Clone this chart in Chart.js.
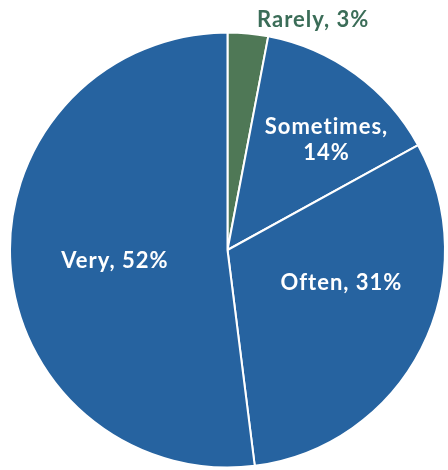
<!DOCTYPE html>
<html>
<head>
<meta charset="utf-8">
<script src="https://cdn.jsdelivr.net/npm/chart.js@4/dist/chart.umd.min.js"></script>
<style>
  html, body { margin: 0; padding: 0; background: #fff; }
  #wrap { width: 448px; height: 470px; }
</style>
</head>
<body>
<div id="wrap"><canvas id="chart" width="448" height="470"></canvas></div>
<script>
// answers, clockwise from 12 o'clock
const categories = ["Rarely", "Sometimes", "Often", "Very"];
const shares = [3, 14, 31, 52];
const sliceColors = ["#4f7856", "#2663a0", "#2663a0", "#2663a0"];

// where each label sits: fraction of the radius, and a nudge (degrees) off the slice middle
const labelSpots = [
  { r: 1.13, shift: 15, color: "#3b6d58", lines: (c, v) => [`${c}, ${v}%`] },
  { r: 0.68, shift: 6, color: "#ffffff", lines: (c, v) => [`${c},`, `${v}%`] },
  { r: 0.545, shift: -11, color: "#ffffff", lines: (c, v) => [`${c}, ${v}%`] },
  { r: 0.52, shift: -2, color: "#ffffff", lines: (c, v) => [`${c}, ${v}%`] }
];

const sliceLabels = {
  id: "sliceLabels",
  afterDatasetsDraw(chart) {
    const ctx = chart.ctx;
    const arcs = chart.getDatasetMeta(0).data;
    ctx.save();
    ctx.font = "bold 22px Lato";
    ctx.letterSpacing = "1px";
    ctx.textAlign = "center";
    ctx.textBaseline = "middle";
    arcs.forEach((arc, i) => {
      const spot = labelSpots[i];
      const { x, y, startAngle, endAngle, outerRadius } = arc.getProps(
        ["x", "y", "startAngle", "endAngle", "outerRadius"], true);
      const a = (startAngle + endAngle) / 2 + spot.shift * Math.PI / 180;
      const lx = x + Math.cos(a) * outerRadius * spot.r;
      const ly = y + Math.sin(a) * outerRadius * spot.r;
      const lines = spot.lines(categories[i], shares[i]);
      const lh = 26;
      ctx.fillStyle = spot.color;
      lines.forEach((t, k) => {
        ctx.fillText(t, lx, ly + (k - (lines.length - 1) / 2) * lh);
      });
    });
    ctx.restore();
  }
};

new Chart(document.getElementById("chart").getContext("2d"), {
  type: "pie",
  data: {
    labels: categories,
    datasets: [{
      data: shares,
      backgroundColor: sliceColors,
      borderColor: "#ffffff",
      borderWidth: 2
    }]
  },
  options: {
    responsive: false,
    animation: false,
    layout: { padding: { left: 9, right: 2, top: 31, bottom: 1 } },
    plugins: {
      legend: { display: false },
      tooltip: { enabled: false }
    }
  },
  plugins: [sliceLabels]
});
</script>
</body>
</html>
